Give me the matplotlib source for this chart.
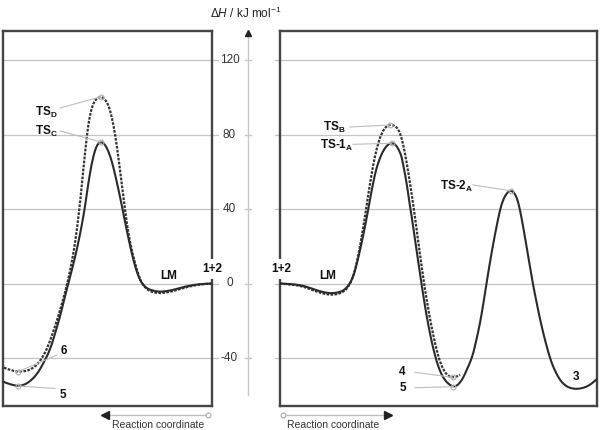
import matplotlib
matplotlib.use('Agg')
import matplotlib.pyplot as plt
from matplotlib.path import Path
from matplotlib.patches import PathPatch
import numpy as np

plt.rcParams['font.family'] = ['Liberation Sans', 'DejaVu Sans']
plt.rcParams['mathtext.fontset'] = 'custom'
plt.rcParams['mathtext.rm'] = 'Liberation Sans'
plt.rcParams['mathtext.it'] = 'Liberation Sans:italic'
plt.rcParams['mathtext.bf'] = 'Liberation Sans:bold'

# ---------------- data ----------------
yticks = [-40, 0, 40, 80, 120]
ytick_labels = ['-40', '0', '40', '80', '120']

# left panel (reaction coordinate runs leftwards from 1+2)
left_solid_x = [0, 12, 22, 29, 36, 42, 48, 54, 60, 65.3, 69, 72, 75, 77.5, 80.3, 82, 85.3, 89.3,
                93.7, 98.7, 102, 105.3, 108, 111, 114, 117, 120.3, 123.7, 127, 130.3, 133.5, 137,
                140.5, 143.7, 148, 152, 157, 162, 168.7, 173.5, 178.7, 184, 189, 193.7, 198.5,
                203.5, 209]
left_solid_y = [0, -0.3, -1.1, -2.0, -3.0, -3.8, -4.3, -4.4, -3.7, -2.6, -0.6, 1.9, 6, 10.5, 16.5,
                20.5, 28.7, 39.5, 51, 62.7, 68.8, 73.0, 75.2, 76, 75.2, 71.7, 64.5, 53.8, 41.2, 31,
                22.5, 14, 6.5, 0, -9, -17.8, -27, -35.7, -42.9, -47.5, -50.9, -53.3, -54.6, -55,
                -54.6, -53.8, -52.7]

left_dash_x = [0, 12, 22, 29, 36, 42, 48, 54, 60, 64, 68, 71, 74, 76, 78.5, 80.3, 83.7, 87, 90.3,
               93.7, 97, 99.5, 102, 104.5, 106, 108.5, 111.5, 114.5, 117, 119.5, 122, 124, 126,
               128.7, 132, 134.5, 137, 140, 144, 149, 154, 160, 165.3, 170, 174, 178.7, 184, 189,
               193.7, 198.5, 203.5, 209]
left_dash_y = [0, -0.5, -1.5, -2.5, -3.6, -4.5, -5.0, -5.2, -4.6, -3.5, -1.5, 1, 5.5, 9, 14, 18,
               27, 39.5, 53.8, 68.1, 80.6, 87.5, 93.2, 96.8, 98, 99.6, 100.2, 99.6, 98.3, 95.5,
               90.5, 84, 75, 61, 43, 31.5, 21.6, 12, 1.5, -9, -18, -28, -35.5, -40, -43, -45.3,
               -46.7, -47.2, -47.3, -46.9, -46.1, -45]

# right panel
right_solid_x = [0, 10, 20, 28, 35, 42, 50, 57, 63.3, 68, 71.7, 74, 76, 79, 81.7, 85, 88.3, 91,
                 93.7, 96.5, 100, 103, 106, 109, 111.7, 114.5, 117, 119.5, 121.7, 124, 126.7, 129,
                 131.7, 134.5, 137.5, 140.5, 143.3, 146.5, 150, 153.5, 156.7, 160, 163, 166.5, 170,
                 173.3, 176.5, 180, 183.5, 186.7, 190, 193.3, 196.5, 200, 203, 206, 209.5, 213.3,
                 216.5, 220, 222.5, 225, 228, 230.7, 233.5, 236, 238, 240, 243, 246, 249.5, 253,
                 256.7, 260, 263.3, 267.5, 271.7, 276, 280, 284, 288, 292.5, 296.7, 301.5, 306.7,
                 311, 315, 317]
right_solid_y = [0, -0.3, -0.8, -2.0, -3.3, -4.5, -5.3, -5.0, -3.9, -1.5, 1.9, 5.0, 9, 15.5, 22,
                 30.5, 40, 48, 55.5, 62, 67.5, 71, 73.5, 75, 75.3, 75, 73.5, 71, 68, 61.5,
                 53.8, 45, 35.9, 25.5, 14.5, 3.5, -6.5, -17, -27, -35.5, -42, -47, -50.3, -52.9,
                 -54.5, -55.4, -55, -53.3, -50.3, -46.4, -42.5, -37.5, -30, -21.4, -12, -1.7, 10,
                 21.6, 30.5, 39.5, 44, 47, 49.2, 49.8, 49.2, 47, 44, 39.5, 31, 21.6, 10.5, -0.5,
                 -10.5, -19, -26.7, -35.5, -42.8, -48, -51.8, -54.2, -55.7, -56.4, -56.6, -56.3,
                 -55.4, -54, -52.2, -51.3]

right_dash_x = [0, 10, 20, 28, 35, 42, 50, 57, 63.3, 68, 71.7, 74, 76.5, 79, 82, 85, 87.5, 90,
                92.5, 95, 98.5, 101.7, 104.5, 107.5, 110, 112.3, 115, 118, 120.5, 123.3, 126.5,
                130, 132.5, 135, 137.5, 140, 143, 145.5, 149, 152, 155, 158, 161, 164, 167, 170,
                172.7, 176.5, 180]
right_dash_y = [0, -0.5, -1.2, -2.6, -4, -5.3, -6.1, -5.8, -4.6, -2, 1.5, 5.5, 10.5, 17, 26, 36,
                45, 53.5, 61.5, 68.5, 76, 80.6, 83.3, 84.7, 85.1, 85.1, 84.6, 83, 80, 74.5, 65.5,
                54, 45, 35.5, 25.5, 15.5, 4, -5, -16, -24.5, -32, -38.5, -43.5, -46.8, -49, -50.1,
                -50.4, -50, -49.1]

# ---------------- layout helpers (pixel geometry of the reference) ----------------
W, H = 600, 430
PX0 = 283.5      # pixel row of 0 kJ/mol
PPU = 1.8625     # pixels per kJ/mol
TOP, BOT = 31, 406
ylo, yhi = (PX0 - BOT) / PPU, (PX0 - TOP) / PPU


def val(py):
    return (PX0 - py) / PPU


def L(px, py):
    return (212 - px, val(py))


def R(px, py):
    return (px - 280, val(py))


def smooth_curve(ax, xs, ys, **kw):
    """Draw the read points as a smooth quadratic-Bezier path (points act as control points)."""
    pts = np.column_stack([xs, ys]).astype(float)
    verts = [pts[0], (pts[0] + pts[1]) / 2]
    codes = [Path.MOVETO, Path.LINETO]
    for i in range(1, len(pts) - 1):
        verts += [pts[i], (pts[i] + pts[i + 1]) / 2]
        codes += [Path.CURVE3, Path.CURVE3]
    verts.append(pts[-1])
    codes.append(Path.LINETO)
    patch = PathPatch(Path(verts, codes), fill=False, **kw)
    ax.add_patch(patch)
    return patch


fig = plt.figure(figsize=(W / 100, H / 100), dpi=100)
fig.patch.set_facecolor('white')

axL = fig.add_axes([3 / W, 1 - BOT / H, 209 / W, (BOT - TOP) / H])
axR = fig.add_axes([280 / W, 1 - BOT / H, 317 / W, (BOT - TOP) / H])
axC = fig.add_axes([212 / W, 1 - BOT / H, 68 / W, (BOT - TOP) / H])

axL.set_xlim(209, 0)
axR.set_xlim(0, 317)
axC.set_xlim(212, 280)
for ax in (axL, axR, axC):
    ax.set_ylim(ylo, yhi)
    ax.set_xticks([])
    ax.set_yticks([])

frame_c = '#454545'
for ax in (axL, axR):
    for s in ax.spines.values():
        s.set_color(frame_c)
        s.set_linewidth(1.7)
axC.axis('off')
axC.patch.set_alpha(0)

grid_c = '#c4c4c4'
for v in yticks:
    axL.plot([0, 1 + 6 / 209], [v, v], transform=axL.get_yaxis_transform(), color=grid_c,
             lw=0.9, clip_on=False, zorder=0.5)
    axR.plot([-5 / 317, 1], [v, v], transform=axR.get_yaxis_transform(), color=grid_c,
             lw=0.9, clip_on=False, zorder=0.5)

# central energy axis
axis_x = 248
axC.plot([axis_x, axis_x], [val(395), val(33)], color='#c8c8c8', lw=1.0, clip_on=False)
axC.plot([axis_x], [val(33)], marker='^', color='#222222', ms=5, clip_on=False)
for v, lab in zip(yticks, ytick_labels):
    axC.plot([245, 251], [v, v], color='#c8c8c8', lw=1.0)
    axC.text(229.5, v, lab, ha='center', va='center', fontsize=8.5, color='#333333')

# curves
sol_kw = dict(edgecolor='#2b2b2b', lw=1.5, zorder=3, capstyle='round', joinstyle='round')
dash_kw = dict(edgecolor='#333333', lw=1.6, linestyle=(0, (1.2, 0.6)), zorder=3)
smooth_curve(axL, left_dash_x, left_dash_y, **dash_kw)
smooth_curve(axL, left_solid_x, left_solid_y, **sol_kw)
smooth_curve(axR, right_dash_x, right_dash_y, **dash_kw)
smooth_curve(axR, right_solid_x, right_solid_y, **sol_kw)

lab_kw = dict(fontsize=8.5, fontweight='bold', color='#111111', zorder=5)
lead_c = '#bdbdbd'


def extreme(xs, ys, lo, hi, kind):
    xs = np.asarray(xs, float)
    ys = np.asarray(ys, float)
    m = (xs >= lo) & (xs <= hi)
    i = np.argmax(ys[m]) if kind == 'max' else np.argmin(ys[m])
    return xs[m][i], ys[m][i]


def leader(ax, start, pt):
    ax.plot([start[0], pt[0]], [start[1], pt[1]], color=lead_c, lw=0.8, zorder=4, clip_on=False)
    ax.plot([pt[0]], [pt[1]], marker='o', ms=3.5, mfc='none', mec='#b0b0b0', mew=0.8, zorder=4,
            clip_on=False)


# left panel labels
pD = extreme(left_dash_x, left_dash_y, 0, 209, 'max')
pC = extreme(left_solid_x, left_solid_y, 0, 209, 'max')
p6 = extreme(left_dash_x, left_dash_y, 0, 209, 'min')
p5L = extreme(left_solid_x, left_solid_y, 0, 209, 'min')
axL.text(*L(35, 112), 'TS$_\\mathbf{D}$', ha='left', va='center', **lab_kw)
leader(axL, L(60, 108), pD)
axL.text(*L(35, 131), 'TS$_\\mathbf{C}$', ha='left', va='center', **lab_kw)
leader(axL, L(60, 131), pC)
axL.text(*L(64, 350.5), '6', ha='center', va='center', **lab_kw)
leader(axL, L(57, 355), p6)
axL.text(*L(63, 395), '5', ha='center', va='center', **lab_kw)
leader(axL, L(55, 388.5), p5L)
axL.text(*L(168.5, 276), 'LM', ha='center', va='center', **lab_kw)
axL.text(*L(212, 269), '1+2', ha='center', va='center',
         bbox=dict(fc='white', ec='none', pad=3.2), **lab_kw)

# right panel labels
pB = extreme(right_dash_x, right_dash_y, 0, 200, 'max')
p1A = extreme(right_solid_x, right_solid_y, 0, 170, 'max')
p2A = extreme(right_solid_x, right_solid_y, 200, 260, 'max')
p4 = extreme(right_dash_x, right_dash_y, 150, 200, 'min')
p5R = extreme(right_solid_x, right_solid_y, 150, 200, 'min')
axR.text(*R(323, 127), 'TS$_\\mathbf{B}$', ha='left', va='center', **lab_kw)
leader(axR, R(350, 127), pB)
axR.text(*R(320, 145), 'TS-1$_\\mathbf{A}$', ha='left', va='center', **lab_kw)
leader(axR, R(353, 144.3), p1A)
axR.text(*R(440, 186), 'TS-2$_\\mathbf{A}$', ha='left', va='center', **lab_kw)
leader(axR, R(473, 185), p2A)
axR.text(*R(402.5, 372), '4', ha='center', va='center', **lab_kw)
leader(axR, R(415, 372.3), p4)
axR.text(*R(402.5, 387.7), '5', ha='center', va='center', **lab_kw)
leader(axR, R(415, 387.7), p5R)
axR.text(*R(576, 376.7), '3', ha='center', va='center', **lab_kw)
axR.text(*R(327.5, 276), 'LM', ha='center', va='center', **lab_kw)
axR.text(*R(281, 269), '1+2', ha='center', va='center',
         bbox=dict(fc='white', ec='none', pad=3.2), **lab_kw)

# overlay in pixel coordinates for annotations outside the panels
ov = fig.add_axes([0, 0, 1, 1])
ov.set_xlim(0, W)
ov.set_ylim(H, 0)
ov.axis('off')
ov.patch.set_alpha(0)

ov.text(246, 13, '$\\Delta\\mathit{H}$ / kJ mol$^{\\mathregular{-1}}$', ha='center', va='center',
        fontsize=8.5, color='#222222')

arr_c = '#c0c0c0'
# left arrow (points left)
ov.plot([208, 106], [415, 415], color=arr_c, lw=1.0)
ov.plot([208], [415], marker='o', ms=3.5, mfc='white', mec='#aaaaaa', mew=0.8)
ov.plot([105], [415], marker='<', ms=5.5, color='#222222')
ov.text(158.5, 425.5, 'Reaction coordinate', ha='center', va='center', fontsize=7.5,
        color='#333333')
# right arrow (points right)
ov.plot([283, 387], [415, 415], color=arr_c, lw=1.0)
ov.plot([283], [415], marker='o', ms=3.5, mfc='white', mec='#aaaaaa', mew=0.8)
ov.plot([388], [415], marker='>', ms=5.5, color='#222222')
ov.text(333.5, 425.5, 'Reaction coordinate', ha='center', va='center', fontsize=7.5,
        color='#333333')

fig.savefig('out.png', dpi=100, facecolor='white')
